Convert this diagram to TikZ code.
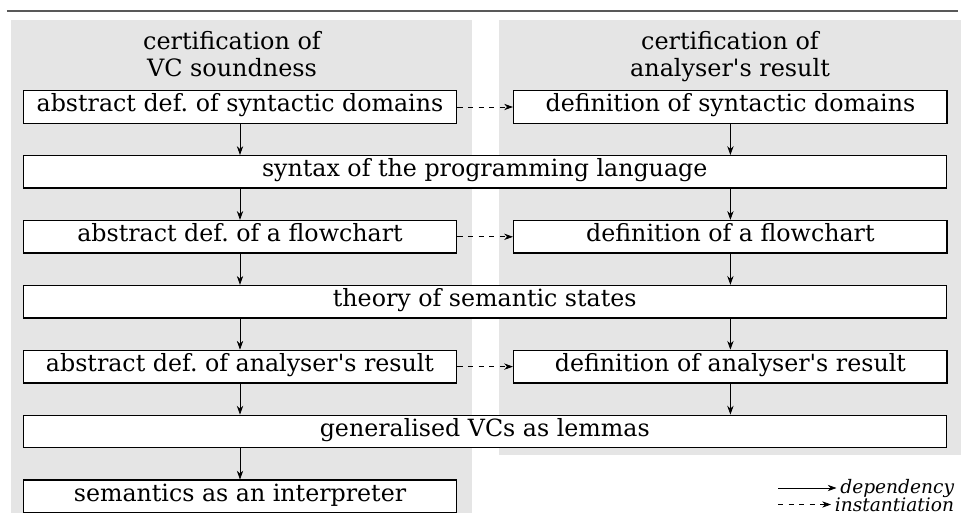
\documentclass[tikz,border=0pt]{standalone}
\usepackage{fontspec}
\setmainfont{DejaVu Serif}
\usetikzlibrary{arrows.meta, positioning, calc}
\frenchspacing

\begin{document}
\begin{tikzpicture}[>={Stealth[length=5pt, width=3.6pt]}, node distance=0.62cm,
    box/.style={draw, thick, fill=white, minimum width=8.67cm, minimum height=0.65cm, inner sep=0pt,
        text height=0.75em, text depth=0.22em, font=\fontsize{13.5}{15.2}\selectfont},
    widebox/.style={box, minimum width=18.46cm},
    head/.style={align=center, font=\fontsize{13.6}{15.2}\selectfont},
    legend/.style={font=\fontsize{10.6}{12}\selectfont\itshape, inner sep=2pt}]
    \useasboundingbox (0,0) rectangle (19.24,-10.42);

    % Rule and the two grey panels
    \draw [line width=1pt, black!65] (0.14,-0.22) -- (19.16,-0.22);
    \fill [black!10] (0.22,-0.40) rectangle (9.44,-10.26);
    \fill [black!10] (9.98,-0.40) rectangle (19.22,-9.10);

    % Panel headers
    \node [head, anchor=base] (lhead) at (4.64,-1.53) {certification of\\VC soundness};
    \node [head, anchor=base] (rhead) at (14.6,-1.53) {certification of\\analyser\textquotesingle s result};

    % Left column and wide boxes
    \node [box] (absdom) at (4.8,-2.14) {abstract def. of syntactic domains};
    \node [widebox, below=of absdom.south west, anchor=north west] (syntax) {syntax of the programming language};
    \node [box, below=of syntax.south west, anchor=north west] (absflow) {abstract def. of a flowchart};
    \node [widebox, below=of absflow.south west, anchor=north west] (states) {theory of semantic states};
    \node [box, below=of states.south west, anchor=north west] (absres) {abstract def. of analyser\textquotesingle s result};
    \node [widebox, below=of absres.south west, anchor=north west] (genvc) {generalised VCs as lemmas};
    \node [box, below=of genvc.south west, anchor=north west] (interp) {semantics as an interpreter};

    % Right column
    \node [box, right=1.11cm of absdom] (defdom) {definition of syntactic domains};
    \node [box, right=1.11cm of absflow] (defflow) {definition of a flowchart};
    \node [box, right=1.11cm of absres] (defres) {definition of analyser\textquotesingle s result};

    % Dependencies
    \draw [->] (absdom) -- (absdom |- syntax.north);
    \draw [->] (defdom) -- (defdom |- syntax.north);
    \draw [->] (syntax.south -| absflow) -- (absflow);
    \draw [->] (syntax.south -| defflow) -- (defflow);
    \draw [->] (absflow) -- (absflow |- states.north);
    \draw [->] (defflow) -- (defflow |- states.north);
    \draw [->] (states.south -| absres) -- (absres);
    \draw [->] (states.south -| defres) -- (defres);
    \draw [->] (absres) -- (absres |- genvc.north);
    \draw [->] (defres) -- (defres |- genvc.north);
    \draw [->] (genvc.south -| interp) -- (interp);

    % Instantiations
    \draw [->, dashed] (absdom) -- (defdom);
    \draw [->, dashed] (absflow) -- (defflow);
    \draw [->, dashed] (absres) -- (defres);

    % Legend
    \node [legend, anchor=east] (depend) at (19.16,-9.76) {dependency};
    \node [legend, anchor=east] (inst) at (19.16,-10.09) {instantiation};
    \coordinate (depstart) at (15.56,-9.76);
    \coordinate (inststart) at (15.56,-10.09);
    \draw [->] (depstart) -- (depend);
    \draw [->, dashed] (inststart) -- (inst);

\end{tikzpicture}
\end{document}
